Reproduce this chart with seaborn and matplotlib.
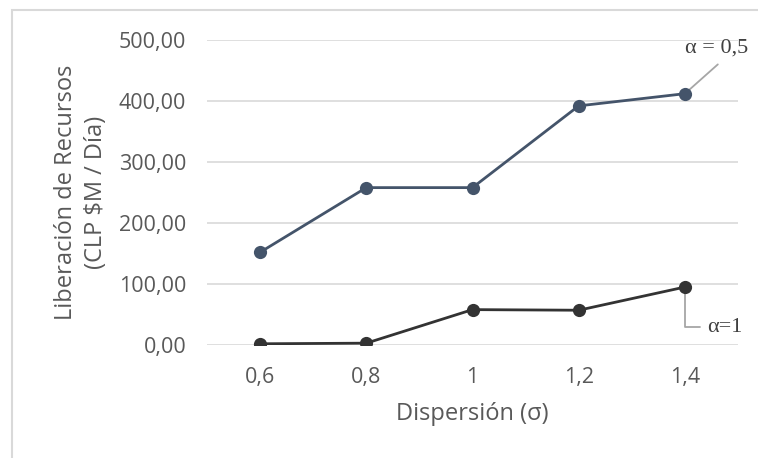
import matplotlib
matplotlib.use("Agg")
import matplotlib.pyplot as plt
import seaborn as sns
import pandas as pd
from matplotlib.patches import Rectangle
from matplotlib.ticker import FuncFormatter

# Data
categories = ["0,6", "0,8", "1", "1,2", "1,4"]
alpha_05 = [152, 258, 258, 392, 412]
alpha_1 = [2, 3, 58, 57, 95]
series_labels = ["α = 0,5", "α=1"]

sns.set_theme(style="white")
plt.rcParams["font.family"] = ["Open Sans", "DejaVu Sans"]

df = pd.DataFrame({
    "x": list(range(len(categories))) * 2,
    "y": alpha_05 + alpha_1,
    "serie": [series_labels[0]] * len(categories) + [series_labels[1]] * len(categories),
})

fig = plt.figure(figsize=(7.58, 4.58), dpi=100)
ax = fig.add_axes([207 / 758, 1 - 345 / 458, (738 - 207) / 758, (345 - 40) / 458])

palette = {series_labels[0]: "#44546A", series_labels[1]: "#333333"}
sns.lineplot(data=df, x="x", y="y", hue="serie", palette=palette, marker="o",
             markersize=9.5, linewidth=2.0, markeredgewidth=0, legend=False, ax=ax,
             zorder=3)

ax.set_xlim(-0.5, len(categories) - 0.5)
ax.set_ylim(0, 500)
ax.set_xticks(range(len(categories)))
ax.set_xticklabels(categories)
ax.set_yticks([0, 100, 200, 300, 400, 500])
ax.yaxis.set_major_formatter(FuncFormatter(lambda v, p: f"{v:.2f}".replace(".", ",")))
ax.grid(axis="y", color="#D9D9D9", linewidth=1.2)
ax.set_axisbelow(True)
for s in ax.spines.values():
    s.set_visible(False)
ax.tick_params(axis="both", length=0, labelsize=15.5, colors="#595959")
ax.tick_params(axis="y", pad=15)
ax.tick_params(axis="x", pad=16)

ax.set_xlabel("Dispersión (σ)", fontsize=17, color="#595959", labelpad=10)
ax.set_ylabel("Liberación de Recursos\n(CLP $M / Día)", fontsize=17, color="#595959",
              labelpad=8, linespacing=1.3)

# Data labels with leader lines
serif = ["Liberation Serif", "DejaVu Serif"]
xi = len(categories) - 1
lead = "#A6A6A6"
ax.plot([xi, xi + 0.31], [alpha_05[-1], 460], color=lead, lw=1.3, zorder=2,
        clip_on=False)
ax.text(xi + 0.30, 487, series_labels[0], ha="center", va="center", fontsize=16,
        family=serif, color="#404040", clip_on=False)
ax.plot([xi, xi, xi + 0.14], [alpha_1[-1], 29, 29], color=lead, lw=1.3, zorder=2,
        clip_on=False)
ax.text(xi + 0.21, 29, series_labels[1], ha="left", va="center", fontsize=16,
        family=serif, color="#404040", clip_on=False)

# Chart border (left & top visible)
fig.add_artist(Rectangle((12 / 758, -0.1), 1.2, 1 - 10 / 458 + 0.1,
                         transform=fig.transFigure, fill=False,
                         edgecolor="#D9D9D9", linewidth=1.5))

fig.savefig("out.png", dpi=100)
